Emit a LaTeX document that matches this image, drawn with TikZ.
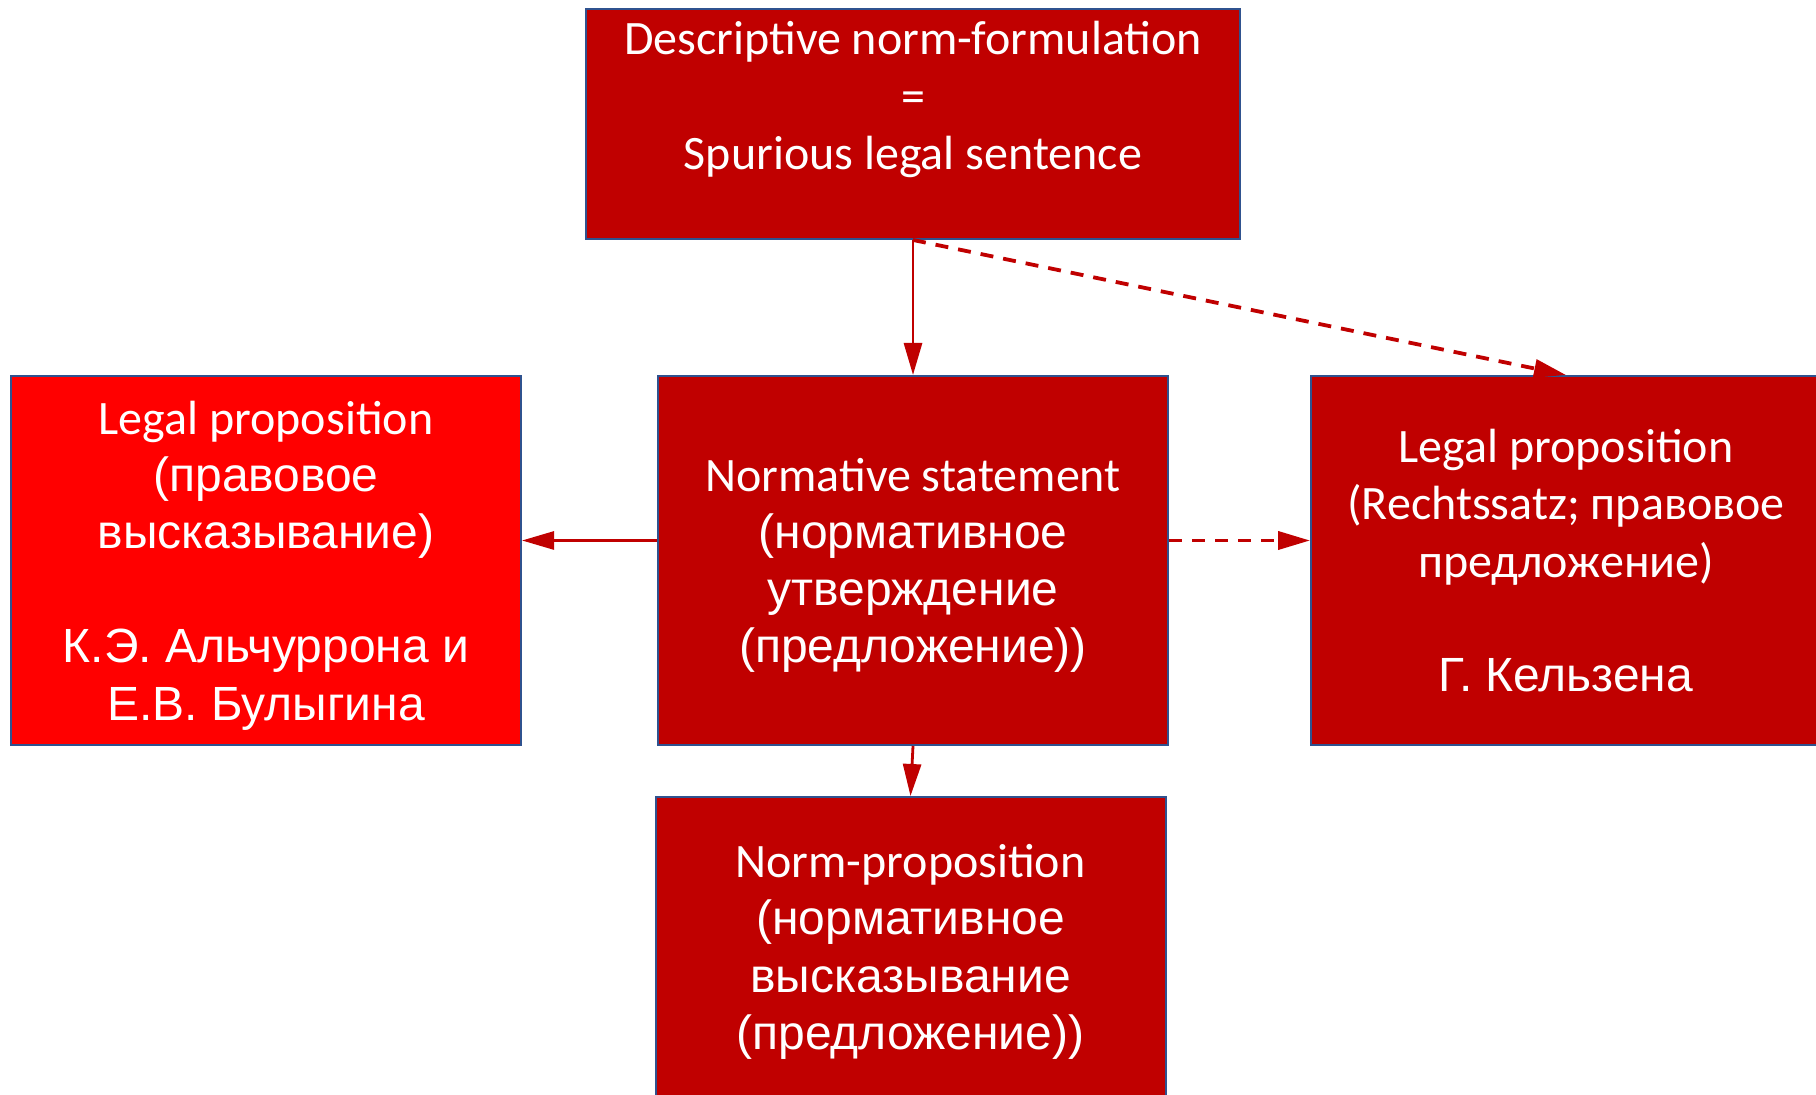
\documentclass[tikz,border=0pt]{standalone}
\usepackage{fontspec}
\setmainfont{Carlito}
\newfontfamily\arialfont{Liberation Sans}
\usetikzlibrary{arrows.meta}
\definecolor{ciemny}{HTML}{C00000}
\definecolor{jasny}{HTML}{FF0000}
\definecolor{ramka}{HTML}{2F528F}
\begin{document}
\begin{tikzpicture}[x=0.5pt,y=-0.5pt,
	blok/.style={draw=ramka,line width=1pt,fill=ciemny,text=white,align=center,inner sep=0pt,
		minimum width=255pt,minimum height=184.5pt,text depth=0pt,font=\fontsize{24}{28.6}\selectfont},
	strz/.style={draw=ciemny,line width=1.4pt,-{Triangle[length=16pt,width=9pt]}},
	przer/.style={strz,line width=1.9pt,dash pattern=on 6.5pt off 5pt}]
	\useasboundingbox (0,0) rectangle (1816,1095);

	\node[blok,minimum width=327pt,minimum height=115pt,text depth=-2pt] (opis) at (913,124)
		{Descriptive norm-formulation\\=\\Spurious legal sentence\\ \strut};
	\node[blok] (norm) at (913,560.5)
		{Normative statement\\{\arialfont (нормативное}\\{\arialfont утверждение}\\{\arialfont (предложение))}};
	\node[blok,fill=jasny] (alch) at (266,560.5)
		{Legal proposition\\{\arialfont (правовое}\\{\arialfont высказывание)}\\ \strut\\{\arialfont К.Э. Альчуррона и}\\{\arialfont Е.В. Булыгина}};
	\node[blok] (kelsen) at (1566,560.5)
		{Legal proposition\\(Rechtssatz; правовое\\предложение)\\ \strut\\{\arialfont Г. Кельзена}};
	\node[blok,text depth=6pt] (np) at (910.5,981.5)
		{Norm-proposition\\{\arialfont (нормативное}\\{\arialfont высказывание}\\{\arialfont (предложение))}\\ \strut};

	% strzalki
	\draw[strz] (opis.south) -- (norm.north);
	\draw[przer] (opis.south) -- (kelsen.north);
	\draw[strz] ([yshift=10pt]norm.west) -- ([yshift=10pt]alch.east);
	\draw[przer] ([yshift=10pt]norm.east) -- ([yshift=10pt]kelsen.west);
	\draw[strz] (norm.south) -- (np.north);
\end{tikzpicture}
\end{document}
